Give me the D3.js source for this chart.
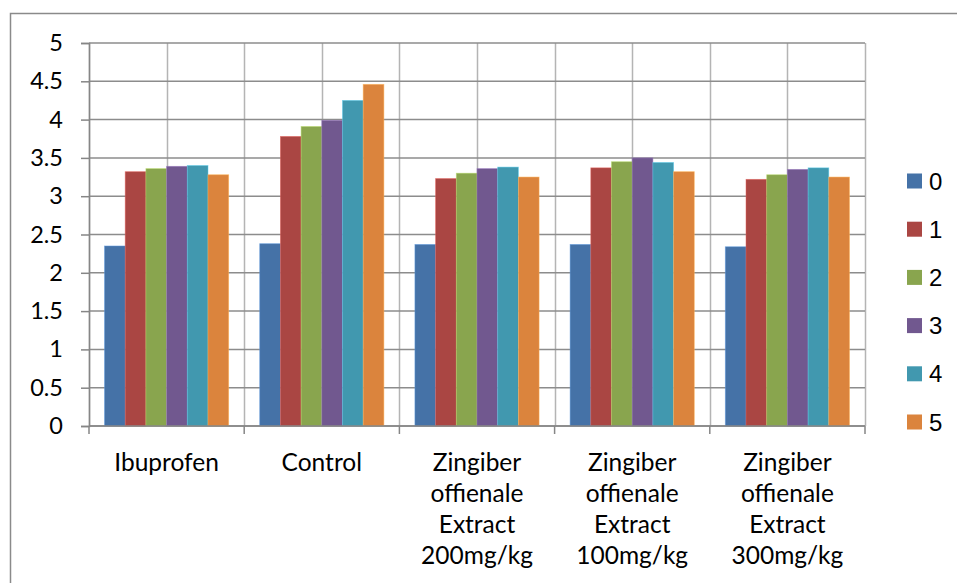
<!DOCTYPE html>
<html>
<head>
<meta charset="utf-8">
<script src="https://cdn.jsdelivr.net/npm/d3@7"></script>
<style>
  html, body { margin: 0; padding: 0; background: #fff; }
  svg { display: block; }
</style>
</head>
<body>
<svg id="chart" width="957" height="583"></svg>
<script>
// Groups along the x axis (label lines split on "|")
const categories = [
  "Ibuprofen",
  "Control",
  "Zingiber|offienale|Extract|200mg/kg",
  "Zingiber|offienale|Extract|100mg/kg",
  "Zingiber|offienale|Extract|300mg/kg"
];
// Series (time points) shown in the legend
const seriesNames = ["0", "1", "2", "3", "4", "5"];
// One row per series, one value per category
const values0 = [2.35, 2.38, 2.37, 2.37, 2.34];
const values1 = [3.32, 3.78, 3.23, 3.37, 3.22];
const values2 = [3.36, 3.91, 3.30, 3.45, 3.28];
const values3 = [3.39, 3.99, 3.36, 3.50, 3.35];
const values4 = [3.40, 4.25, 3.38, 3.44, 3.37];
const values5 = [3.28, 4.46, 3.25, 3.32, 3.25];
const seriesValues = [values0, values1, values2, values3, values4, values5];
const yTicks = [0, 0.5, 1, 1.5, 2, 2.5, 3, 3.5, 4, 4.5, 5];
const colors = ["#4572A7", "#AA4643", "#89A54E", "#71588F", "#4198AF", "#DB843D"];

const svg = d3.select("#chart");
const plot = { left: 89, right: 865, top: 43, bottom: 426 };
const labelFont = "Lato, 'Open Sans', sans-serif";

// Outer chart frame
svg.append("rect")
  .attr("x", 10.5).attr("y", 13.5)
  .attr("width", 960).attr("height", 600)
  .attr("fill", "none").attr("stroke", "#8a8a8a").attr("stroke-width", 1.5);

const x = d3.scaleBand().domain(categories).range([plot.left, plot.right]).padding(0);
const xs = d3.scaleBand().domain(seriesNames).range([0, x.bandwidth()])
  .paddingInner(0).paddingOuter(0.75);
const y = d3.scaleLinear().domain([0, 5]).range([plot.bottom, plot.top]);

// Vertical gridlines at every half category
const vLines = [];
categories.forEach(c => { vLines.push(x(c)); vLines.push(x(c) + x.bandwidth() / 2); });
vLines.push(plot.right);
svg.append("g").selectAll("line").data(vLines).join("line")
  .attr("x1", d => Math.round(d) + 0.5).attr("x2", d => Math.round(d) + 0.5)
  .attr("y1", plot.top).attr("y2", plot.bottom)
  .attr("stroke", "#b4b4b4").attr("stroke-width", 1.5);

// Horizontal gridlines
svg.append("g").selectAll("line").data(yTicks).join("line")
  .attr("x1", plot.left).attr("x2", plot.right)
  .attr("y1", d => y(d)).attr("y2", d => y(d))
  .attr("stroke", "#8c8c8c").attr("stroke-width", 1.5);

// Bars
const rows = [];
seriesValues.forEach((vals, si) => {
  vals.forEach((v, ci) => rows.push({ s: seriesNames[si], c: categories[ci], v, si }));
});
svg.append("g").selectAll("rect").data(rows).join("rect")
  .attr("x", d => x(d.c) + xs(d.s))
  .attr("y", d => y(d.v))
  .attr("width", xs.bandwidth())
  .attr("height", d => y(0) - y(d.v))
  .attr("fill", d => colors[d.si])
  .attr("stroke", d => d3.color(colors[d.si]).brighter(0.8))
  .attr("stroke-opacity", 0.6)
  .attr("stroke-width", 0.8);

// Y axis
const yAxis = svg.append("g")
  .attr("transform", `translate(${plot.left},0)`)
  .call(d3.axisLeft(y).tickValues(yTicks).tickSize(8).tickPadding(18)
    .tickFormat(d => String(d)));
yAxis.select(".domain").attr("stroke", "#868686").attr("stroke-width", 1.5);
yAxis.selectAll(".tick line").attr("stroke", "#868686").attr("stroke-width", 1.5);
yAxis.selectAll(".tick text")
  .attr("font-family", labelFont)
  .attr("font-size", 23.5).attr("fill", "#000");

// X axis
const xAxis = svg.append("g").attr("transform", `translate(0,${plot.bottom})`);
xAxis.append("line")
  .attr("x1", plot.left).attr("x2", plot.right)
  .attr("stroke", "#868686").attr("stroke-width", 1.5);
const xTickPos = categories.map(c => x(c)).concat([plot.right]);
xAxis.selectAll("line.tk").data(xTickPos).join("line").attr("class", "tk")
  .attr("x1", d => d).attr("x2", d => d).attr("y1", 0).attr("y2", 8)
  .attr("stroke", "#868686").attr("stroke-width", 1.5);

const labels = svg.append("g")
  .attr("font-family", labelFont)
  .attr("font-size", 24.5).attr("fill", "#000").attr("text-anchor", "middle");
categories.forEach(c => {
  const t = labels.append("text").attr("x", x(c) + x.bandwidth() / 2);
  c.split("|").forEach((line, i) => {
    t.append("tspan").attr("x", x(c) + x.bandwidth() / 2)
      .attr("y", 471 + i * 31).text(line);
  });
});

// Legend
const legend = svg.append("g");
seriesNames.forEach((s, i) => {
  const cy = 181 + i * 48.2;
  legend.append("rect")
    .attr("x", 907).attr("y", cy - 7.5).attr("width", 15).attr("height", 15)
    .attr("fill", colors[i]);
  legend.append("text")
    .attr("x", 929).attr("y", cy).attr("dy", "0.36em")
    .attr("font-family", "'Liberation Sans', Arial, sans-serif")
    .attr("font-size", 24).attr("fill", "#000")
    .text(s);
});
</script>
</body>
</html>
